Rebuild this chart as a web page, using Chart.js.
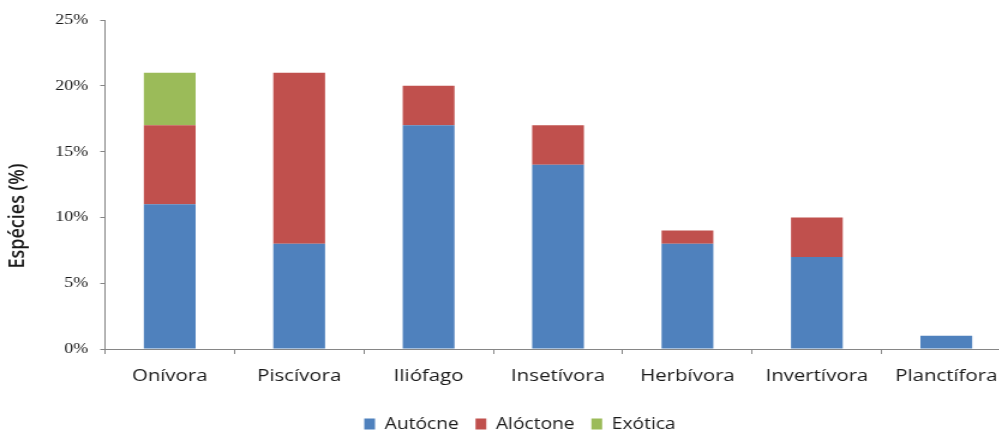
<!DOCTYPE html>
<html>
<head>
<meta charset="utf-8">
<script src="https://cdn.jsdelivr.net/npm/chart.js@4.4.1/dist/chart.umd.min.js"></script>
<style>
  html, body { margin: 0; padding: 0; background: #fff; overflow: hidden; }
  /* the chart was laid out narrow and widened, so text comes out wide like the original sheet */
  #wrap { width: 850px; height: 433px; transform: scaleX(1.2); transform-origin: 0 0; }
</style>
</head>
<body>
<div id="wrap"><canvas id="grafico" width="850" height="433"></canvas></div>
<script>
'use strict';

// Guildas tróficas
const categorias = ['Onívora', 'Piscívora', 'Iliófago', 'Insetívora', 'Herbívora', 'Invertívora', 'Planctífora'];

// Percentagem de espécies por origem
const autocne  = [11, 8, 17, 14, 8, 7, 1];
const aloctone = [6, 13, 3, 3, 1, 3, 0];
const exotica  = [4, 0, 0, 0, 0, 0, 0];

const escalaY = { min: 0, max: 25, passo: 5 };
const tituloY = 'Espécies (%)';

const corEixo = '#868686';
const corTexto = '#1a1a1a';

// Título do eixo Y desenhado à mão (no Excel fica mais abaixo do centro)
const tituloEixoY = {
  id: 'tituloEixoY',
  afterDraw(chart) {
    const c = chart.ctx;
    c.save();
    c.translate(15, 216);
    c.rotate(-Math.PI / 2);
    c.fillStyle = corTexto;
    c.font = '600 18px "Open Sans"';
    c.textAlign = 'center';
    c.textBaseline = 'middle';
    c.fillText(tituloY, 0, 0);
    c.restore();
  }
};

const ctx = document.getElementById('grafico').getContext('2d');
const grafico = new Chart(ctx, {
  type: 'bar',
  data: {
    labels: categorias,
    datasets: [
      { label: 'Autócne', data: autocne, backgroundColor: '#4F81BD' },
      { label: 'Alóctone', data: aloctone, backgroundColor: '#C0504D' },
      { label: 'Exótica', data: exotica, backgroundColor: '#9BBB59' }
    ]
  },
  plugins: [tituloEixoY],
  options: {
    responsive: false,
    animation: false,
    devicePixelRatio: 1,
    layout: { padding: { top: 20, left: 24, right: 7.5, bottom: -9 } },
    datasets: {
      bar: { barPercentage: 0.4, categoryPercentage: 1.0, borderWidth: 0 }
    },
    plugins: {
      tooltip: { enabled: false },
      legend: {
        position: 'bottom',
        labels: {
          boxWidth: 9,
          boxHeight: 11,
          padding: 14,
          color: corTexto,
          font: { family: 'Open Sans', size: 16 }
        }
      }
    },
    scales: {
      x: {
        stacked: true,
        afterFit: scale => { scale.height = 53; },
        grid: { drawOnChartArea: false, drawTicks: true, tickLength: 5, color: corEixo, offset: true },
        border: { color: corEixo, width: 1 },
        ticks: { color: corTexto, padding: 12, font: { family: 'Open Sans', size: 17 } }
      },
      y: {
        stacked: true,
        min: escalaY.min,
        max: escalaY.max,
        afterFit: scale => { scale.width = 63.5; },
        grid: { drawOnChartArea: false, drawTicks: true, tickLength: 4, color: corEixo },
        border: { color: corEixo, width: 1 },
        ticks: {
          stepSize: escalaY.passo,
          color: corTexto,
          padding: 10,
          font: { family: 'Liberation Serif', size: 15 },
          callback: v => v + '%'
        }
      }
    }
  }
});
</script>
</body>
</html>
